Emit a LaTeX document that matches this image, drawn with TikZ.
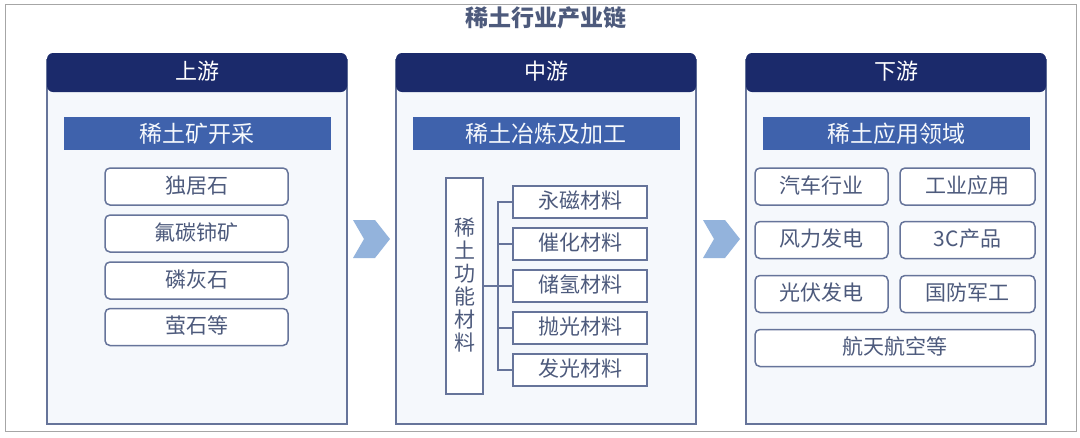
\documentclass[tikz,border=0pt]{standalone}
\usepackage{fontspec}
\setmainfont{Noto Sans CJK SC}
\definecolor{navy}{HTML}{1B2A6B}
\definecolor{midblue}{HTML}{3F62AC}
\definecolor{edgeblue}{HTML}{66749A}
\definecolor{inkblue}{HTML}{4D5A7C}
\definecolor{paleblue}{HTML}{F5F8FC}
\definecolor{chevblue}{HTML}{93B3DC}
\begin{document}
\begin{tikzpicture}
    [
    x=1pt,y=-1pt,
    frame/.style={
      draw=edgeblue,
      fill=paleblue,
      line width=1.5pt
    },
    header/.style={
      rounded corners=6pt,
      fill=navy,
      text=white,
      minimum width=300pt,
      minimum height=39pt,
      inner sep=0pt,
      text height=18pt,
      text depth=5pt,
      font=\fontsize{22}{24}\selectfont
    },
    subbar/.style={
      fill=midblue,
      text=paleblue,
      minimum width=267pt,
      minimum height=33pt,
      inner sep=0pt,
      font=\fontsize{23}{25}\selectfont
    },
    item/.style={
      draw=edgeblue,
      fill=white,
      text=inkblue,
      line width=1.5pt,
      rounded corners=5pt,
      minimum height=37pt,
      inner sep=0pt,
      text height=18pt,
      text depth=5pt,
      font=\fontsize{21}{23}\selectfont
    },
    sideitem/.style={
      item,
      minimum width=183pt
    },
    matitem/.style={
      item,
      rounded corners=0pt,
      minimum width=134pt,
      minimum height=32pt
    },
    appitem/.style={
      item,
      minimum width=133pt
    },
    chevron/.style={
      fill=chevblue
    }
    ]
    \useasboundingbox (0,0) rectangle (1080,437);
    % outer frame and title
    \draw[draw=black!35,fill=white,line width=1pt] (5,4) rectangle (1076,431);
    \node (title) at (546,18) [text=inkblue,font=\fontsize{23}{25}\selectfont\bfseries] {稀土行业产业链};

    % three columns
    \foreach \name/\cx/\head/\sub in {up/197/上游/稀土矿开采,mid/546/中游/稀土冶炼及加工,down/896/下游/稀土应用领域}{
      \draw[frame] (\cx-150,60) rectangle (\cx+150,424);
      \node (\name head) at (\cx,72.5) [header] {\head};
      \node (\name sub) at (\cx,133.5) [subbar] {\sub};
    }

    % upstream
    \node (dujushi) at (196.5,186.5) [sideitem] {独居石};
    \node (futan) at (196.5,233.5) [sideitem] {氟碳铈矿};
    \node (linhui) at (196.5,280.5) [sideitem] {磷灰石};
    \node (yingshi) at (196.5,327) [sideitem] {萤石等};

    % midstream
    \node (gongneng) at (464.5,286) [item,rounded corners=0pt,minimum width=37pt,minimum height=216pt,text height=133pt,align=center] {稀\\土\\功\\能\\材\\料};
    \node (yongci) at (580,202) [matitem] {永磁材料};
    \node (cuihua) at (580,244) [matitem] {催化材料};
    \node (chuqing) at (580,286) [matitem] {储氢材料};
    \node (paoguang) at (580,328) [matitem] {抛光材料};
    \node (faguang) at (580,370) [matitem] {发光材料};
    \coordinate (bus) at (498,286);
    \draw[draw=edgeblue,line width=1.5pt] (gongneng.east) -- (chuqing.west);
    \foreach \name in {yongci,cuihua,paoguang,faguang}
      \draw[draw=edgeblue,line width=1.5pt] (bus) |- (\name.west);

    % downstream
    \node (qiche) at (821.5,186.5) [appitem] {汽车行业};
    \node (gongye) at (967.5,186.5) [appitem,minimum width=135pt] {工业应用};
    \node (fengli) at (821.5,240) [appitem] {风力发电};
    \node (sanc) at (967.5,240) [appitem,minimum width=135pt] {3C产品};
    \node (guangfu) at (821.5,294) [appitem] {光伏发电};
    \node (guofang) at (967.5,294) [appitem,minimum width=135pt] {国防军工};
    \node (hangtian) at (895,348) [item,minimum width=280pt] {航天航空等};

    % chevrons between columns
    \foreach \dx in {0,350}
      \fill[chevron] (353+\dx,220) -- (375+\dx,220) -- (390+\dx,239) -- (375+\dx,258) -- (353+\dx,258) -- (364+\dx,239) -- cycle;
\end{tikzpicture}
\end{document}
